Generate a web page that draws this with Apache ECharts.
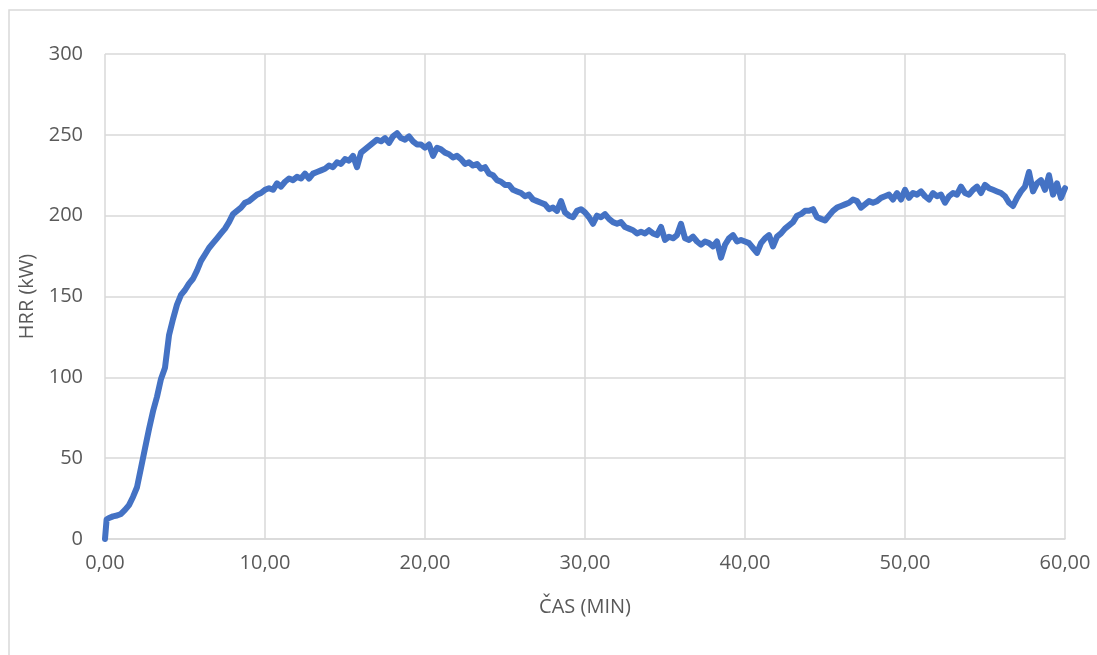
<!DOCTYPE html>
<html>
<head>
<meta charset="utf-8">
<script src="https://cdn.jsdelivr.net/npm/echarts@6/dist/echarts.min.js"></script>
<style>
  html, body { margin: 0; padding: 0; background: #fff; }
  #chart { width: 1097px; height: 655px; }
</style>
</head>
<body>
<div id="chart"></div>
<script>
// čas (min) a HRR (kW)
var casMin = [0, 0.1, 0.25, 0.5, 0.75, 1, 1.25, 1.5, 1.75, 2, 2.25, 2.5, 2.75, 3, 3.25, 3.5, 3.75, 4,
  4.25, 4.5, 4.75, 5, 5.25, 5.5, 5.75, 6, 6.25, 6.5, 6.75, 7, 7.25, 7.5, 7.75, 8, 8.25, 8.5, 8.75, 9,
  9.25, 9.5, 9.75, 10, 10.25, 10.5, 10.75, 11, 11.25, 11.5, 11.75, 12, 12.25, 12.5, 12.75, 13, 13.25,
  13.5, 13.75, 14, 14.25, 14.5, 14.75, 15, 15.25, 15.5, 15.75, 16, 16.25, 16.5, 16.75, 17, 17.25, 17.5,
  17.75, 18, 18.25, 18.5, 18.75, 19, 19.25, 19.5, 19.75, 20, 20.25, 20.5, 20.75, 21, 21.25, 21.5, 21.75,
  22, 22.25, 22.5, 22.75, 23, 23.25, 23.5, 23.75, 24, 24.25, 24.5, 24.75, 25, 25.25, 25.5, 25.75, 26,
  26.25, 26.5, 26.75, 27, 27.25, 27.5, 27.75, 28, 28.25, 28.5, 28.75, 29, 29.25, 29.5, 29.75, 30, 30.25,
  30.5, 30.75, 31, 31.25, 31.5, 31.75, 32, 32.25, 32.5, 32.75, 33, 33.25, 33.5, 33.75, 34, 34.25, 34.5,
  34.75, 35, 35.25, 35.5, 35.75, 36, 36.25, 36.5, 36.75, 37, 37.25, 37.5, 37.75, 38, 38.25, 38.5, 38.75,
  39, 39.25, 39.5, 39.75, 40, 40.25, 40.5, 40.75, 41, 41.25, 41.5, 41.75, 42, 42.25, 42.5, 42.75, 43,
  43.25, 43.5, 43.75, 44, 44.25, 44.5, 44.75, 45, 45.25, 45.5, 45.75, 46, 46.25, 46.5, 46.75, 47, 47.25,
  47.5, 47.75, 48, 48.25, 48.5, 48.75, 49, 49.25, 49.5, 49.75, 50, 50.25, 50.5, 50.75, 51, 51.25, 51.5,
  51.75, 52, 52.25, 52.5, 52.75, 53, 53.25, 53.5, 53.75, 54, 54.25, 54.5, 54.75, 55, 55.25, 55.5, 55.75,
  56, 56.25, 56.5, 56.75, 57, 57.25, 57.5, 57.75, 58, 58.25, 58.5, 58.75, 59, 59.25, 59.5, 59.75, 60];

var hrr = [0, 12, 13, 14, 14.5, 15.5, 18, 21, 26, 32, 44, 56, 68, 79, 88, 99, 106, 126,
  136, 145, 151, 154, 158, 161, 166, 172, 176, 180, 183, 186, 189, 192, 196, 201, 203, 205, 208, 209,
  211, 213, 214, 216, 217, 216, 220, 218, 221, 223, 222, 224, 223, 226, 223, 226, 227,
  228, 229, 231, 230, 233, 232, 235, 234, 237, 230, 239, 241, 243, 245, 247, 246, 248,
  245, 249, 251, 248, 247, 249, 246, 244, 244, 242, 244, 237, 242, 241, 239, 238, 236,
  237, 235, 232, 233, 231, 232, 229, 230, 226, 225, 222, 221, 219, 219, 216, 215, 214,
  212, 213, 210, 209, 208, 207, 204, 205, 203, 209, 202, 200, 199, 203, 204, 202, 199,
  195, 200, 199, 201, 198, 196, 195, 196, 193, 192, 191, 189, 190, 189, 191, 189, 188,
  193, 185, 187, 186, 188, 195, 186, 185, 187, 184, 182, 184, 183, 181, 184, 174, 182,
  186, 188, 184, 185, 184, 183, 180, 177, 183, 186, 188, 181, 187, 189, 192, 194, 196,
  200, 201, 203, 203, 204, 199, 198, 197, 200, 203, 205, 206, 207, 208, 210, 209, 205,
  207, 209, 208, 209, 211, 212, 213, 210, 214, 210, 216, 211, 214, 213, 215, 212, 210,
  214, 212, 213, 208, 212, 214, 213, 218, 214, 213, 216, 218, 214, 219, 217, 216, 215,
  214, 212, 208, 206, 211, 215, 218, 227, 215, 220, 222, 216, 225, 213, 220, 211, 217];

var xTicks = [0, 10, 20, 30, 40, 50, 60];
var yTicks = [0, 50, 100, 150, 200, 250, 300];

var body = [];
for (var i = 0; i < casMin.length; i++) {
  body.push([casMin[i], hrr[i]]);
}

var myChart = echarts.init(document.getElementById('chart'));
var textCol = '#595959';
var gridCol = '#d9d9d9';
var font = '"Open Sans", "Noto Sans", sans-serif';

var option = {
  backgroundColor: '#fff',
  animation: false,
  // rámeček kolem celého grafu
  graphic: [{
    type: 'rect',
    shape: { x: 9, y: 10, width: 1200, height: 800 },
    style: { fill: 'none', stroke: gridCol, lineWidth: 1.5 },
    silent: true
  }],
  grid: { left: 105, right: 32, top: 54, bottom: 116 },
  xAxis: {
    type: 'value',
    min: xTicks[0],
    max: xTicks[xTicks.length - 1],
    interval: 10,
    name: 'ČAS (MIN)',
    nameLocation: 'middle',
    nameGap: 58,
    nameTextStyle: { color: textCol, fontSize: 20, fontFamily: font },
    axisLine: { show: true, lineStyle: { color: gridCol, width: 1.5 } },
    axisTick: { show: false },
    axisLabel: {
      color: textCol, fontSize: 20, fontFamily: font, margin: 14,
      formatter: function (v) { return v.toFixed(2).replace('.', ','); }
    },
    splitLine: { show: true, lineStyle: { color: gridCol, width: 1.5 } }
  },
  yAxis: {
    type: 'value',
    min: yTicks[0],
    max: yTicks[yTicks.length - 1],
    interval: 50,
    name: 'HRR (kW)',
    nameLocation: 'middle',
    nameGap: 57,
    nameTextStyle: { color: textCol, fontSize: 20, fontFamily: font },
    axisLine: { show: false },
    axisTick: { show: false },
    axisLabel: { color: textCol, fontSize: 20, fontFamily: font, margin: 22 },
    splitLine: { show: true, lineStyle: { color: gridCol, width: 1.5 } }
  },
  series: [{
    type: 'line',
    data: body,
    showSymbol: false,
    smooth: false,
    lineStyle: { color: '#4472C4', width: 6, cap: 'round', join: 'round' },
    itemStyle: { color: '#4472C4' }
  }]
};

myChart.setOption(option);
</script>
</body>
</html>
